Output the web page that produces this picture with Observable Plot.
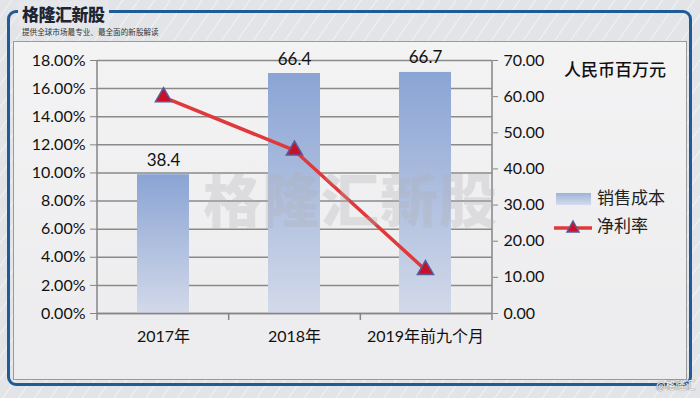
<!DOCTYPE html>
<html><head><meta charset="utf-8">
<script src="https://cdn.jsdelivr.net/npm/d3@7"></script>
<script src="https://cdn.jsdelivr.net/npm/@observablehq/plot@0.6"></script>
<style>
html,body{margin:0;padding:0;}
#wrap{position:relative;width:700px;height:398px;overflow:hidden;
 background:repeating-linear-gradient(-55deg,#e3e4e7 0px,#e3e4e7 11px,#f1f2f4 12px,#e3e4e7 13px);
 font-family:"Noto Sans CJK SC",sans-serif;}
.frame{position:absolute;left:7px;top:10px;width:679px;height:370px;border:3px solid #1f5b96;border-radius:9px;}
.inner{position:absolute;left:13px;top:41px;width:672px;height:337px;border:1px solid #9a9a9a;background:linear-gradient(#f3f3f4,#ececee);}
.title{position:absolute;left:18px;top:1px;padding:0 4px;height:26px;line-height:26px;font-size:17px;font-weight:900;color:#1b2533;background:#e6e7ea;letter-spacing:-0.5px;}
.sub{position:absolute;left:22px;top:26px;font-size:7.6px;color:#333;white-space:nowrap;}
#chart{position:absolute;left:0;top:0;}
.wm{position:absolute;left:203px;top:155px;font-size:58px;font-weight:900;color:rgba(175,175,180,0.30);white-space:nowrap;letter-spacing:1px;}
.unit{position:absolute;left:564px;top:56px;font-size:17px;font-weight:500;color:#111;white-space:nowrap;}
.leg{position:absolute;left:553px;font-size:17px;color:#222;white-space:nowrap;}
.tag{position:absolute;left:656px;top:377px;font-size:10px;color:#fff;text-shadow:0 0 1px #666,0 0 1px #666;}
</style></head>
<body>
<div id="wrap">
 <div class="frame"></div>
 <div class="inner"></div>
 <div class="title">格隆汇新股</div>
 <div class="sub">提供全球市场最专业、最全面的新股解读</div>
 <div id="chart"></div>
 <div class="unit">人民币百万元</div>
 <div class="leg" style="top:184px"><svg width="40" height="20" style="vertical-align:middle"><defs><linearGradient id="lg1" x1="0" y1="0" x2="0" y2="1"><stop offset="0" stop-color="#9eb3da"/><stop offset="1" stop-color="#d5dcea"/></linearGradient></defs><rect x="3" y="4" width="35" height="12" fill="url(#lg1)"/></svg><span style="margin-left:4px">销售成本</span></div>
 <div class="leg" style="top:212px"><svg width="40" height="20" style="vertical-align:middle"><line x1="1" x2="39" y1="11" y2="11" stroke="#e0393c" stroke-width="3.5"/><path d="M20,4 L26,15 L14,15 Z" fill="#c81028" stroke="#5b5a9a" stroke-width="1.5"/></svg><span style="margin-left:4px">净利率</span></div>
 <div class="wm">格隆汇新股</div>
 <div class="tag">@格隆汇</div>
</div>
<script>
const categories = ["2017年", "2018年", "2019年前九个月"];
const costValues = [38.4, 66.4, 66.7];          // 销售成本, 人民币百万元 (right axis)
const netMargin = [15.4, 11.6, 3.1];            // 净利率, % (left axis)
const leftTicks = [0, 2, 4, 6, 8, 10, 12, 14, 16, 18];
const rightTicks = [0, 10, 20, 30, 40, 50, 60, 70];
const leftMax = 18, rightMax = 70;

const toRight = p => p * rightMax / leftMax;
const bars = categories.map((c, i) => ({cat: c, cost: costValues[i]}));
const rates = categories.map((c, i) => ({cat: c, rate: netMargin[i]}));

const defsMark = () => {
  const defs = d3.create("svg:defs");
  const g = defs.append("linearGradient").attr("id", "barGrad")
    .attr("x1", 0).attr("y1", 0).attr("x2", 0).attr("y2", 1);
  g.append("stop").attr("offset", "0%").attr("stop-color", "#8aa4d4");
  g.append("stop").attr("offset", "100%").attr("stop-color", "#d2d9e9");
  return defs.node();
};

const frameMark = (index, scales, values, dims) => {
  const {width, height, marginLeft, marginRight, marginTop, marginBottom} = dims;
  const step = (width - marginLeft - marginRight) / categories.length;
  const g = d3.create("svg:g").attr("stroke", "#858585").attr("stroke-width", 1.5);
  const y0 = height - marginBottom;
  for (let i = 0; i <= categories.length; i++) {
    const x = marginLeft + i * step;
    g.append("line").attr("x1", x).attr("x2", x).attr("y1", y0).attr("y2", y0 + 7);
  }
  g.append("line").attr("x1", marginLeft).attr("x2", marginLeft).attr("y1", marginTop).attr("y2", y0);
  g.append("line").attr("x1", width - marginRight).attr("x2", width - marginRight).attr("y1", marginTop).attr("y2", y0);
  return g.node();
};

const chart = Plot.plot({
  width: 700, height: 398,
  marginLeft: 97, marginRight: 208, marginTop: 60, marginBottom: 85,
  style: {background: "transparent", fontFamily: "Lato, 'Noto Sans CJK SC', sans-serif", fontSize: "16px", color: "#111", overflow: "visible"},
  x: {domain: categories, paddingInner: 0.6, paddingOuter: 0.3, label: null},
  y: {domain: [0, rightMax], label: null},
  marks: [
    defsMark,
    Plot.ruleY(leftTicks.map(toRight), {stroke: "#8a8a8a", strokeWidth: 1.5}),
    Plot.barY(bars, {x: "cat", y: "cost", fill: "url(#barGrad)"}),
    frameMark,
    Plot.ruleY([0], {stroke: "#858585", strokeWidth: 1.5}),
    Plot.text(bars, {x: "cat", y: "cost", text: d => d.cost.toFixed(1), lineAnchor: "bottom", dy: -9, fontSize: 17, fill: "#111"}),
    Plot.line(rates, {x: "cat", y: d => toRight(d.rate), stroke: "#e0393c", strokeWidth: 3.5}),
    Plot.dot(rates, {x: "cat", y: d => toRight(d.rate), symbol: "triangle", r: 6, fill: "#c81028", stroke: "#5b5a9a", strokeWidth: 1.5}),
    Plot.axisY(leftTicks.map(toRight), {anchor: "left", tickFormat: d => (d * leftMax / rightMax).toFixed(2) + "%", tickSize: 7, tickPadding: 5, stroke: "#858585", fill: "#111", fontSize: 16, label: null}),
    Plot.axisY(rightTicks, {anchor: "right", tickFormat: d => d.toFixed(2), tickSize: 5, tickPadding: 6, stroke: "#858585", fill: "#111", fontSize: 16, label: null}),
    Plot.axisX({tickSize: 0, tickPadding: 17, fontSize: 16, fill: "#111", label: null, fontFamily: "Lato, 'Noto Sans CJK SC', sans-serif"})
  ]
});
document.getElementById("chart").appendChild(chart);
</script>
</body></html>
